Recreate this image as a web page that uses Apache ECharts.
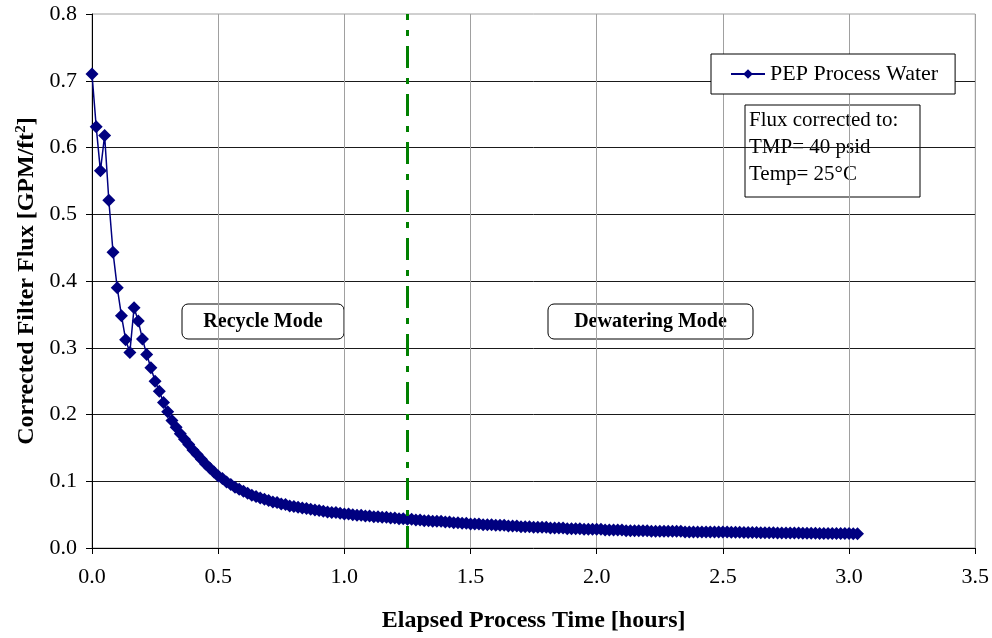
<!DOCTYPE html>
<html>
<head>
<meta charset="utf-8">
<script src="https://cdn.jsdelivr.net/npm/echarts@6/dist/echarts.min.js"></script>
<style>
  html, body { margin: 0; padding: 0; background: #fff; }
  #chart { width: 992px; height: 638px; }
</style>
</head>
<body>
<div id="chart"></div>
<script>
// Corrected filter flux, sampled once per minute from the start of the run
const sampleMinutes = 1;
const flux = [
  0.710, 0.631, 0.565, 0.618, 0.521, 0.443, 0.390, 0.348, 0.312, 0.293,
  0.360, 0.340, 0.313, 0.290, 0.270, 0.250, 0.235, 0.218, 0.204, 0.191,
  0.181, 0.171, 0.163, 0.155, 0.147, 0.140, 0.133, 0.126, 0.120, 0.114,
  0.108, 0.104, 0.099, 0.095, 0.091, 0.088, 0.085, 0.082, 0.079, 0.077,
  0.075, 0.073, 0.071, 0.069, 0.068, 0.066, 0.065, 0.063, 0.062, 0.061,
  0.060, 0.059, 0.058, 0.057, 0.056, 0.055, 0.054, 0.053, 0.053, 0.052,
  0.051, 0.051, 0.050, 0.049, 0.049, 0.048, 0.048, 0.047, 0.047, 0.046,
  0.046, 0.045, 0.045, 0.044, 0.044, 0.043, 0.043, 0.042, 0.042, 0.041,
  0.041, 0.040, 0.040, 0.040, 0.039, 0.039, 0.038, 0.038, 0.037, 0.037,
  0.036, 0.036, 0.036, 0.035, 0.035, 0.035, 0.034, 0.034, 0.034, 0.033,
  0.033, 0.033, 0.032, 0.032, 0.032, 0.031, 0.031, 0.031, 0.031, 0.030,
  0.030, 0.030, 0.030, 0.029, 0.029, 0.029, 0.029, 0.028, 0.028, 0.028,
  0.028, 0.028, 0.027, 0.027, 0.027, 0.027, 0.027, 0.026, 0.026, 0.026,
  0.026, 0.026, 0.026, 0.025, 0.025, 0.025, 0.025, 0.025, 0.025, 0.025,
  0.025, 0.024, 0.024, 0.024, 0.024, 0.024, 0.024, 0.024, 0.024, 0.024,
  0.024, 0.0238, 0.0237, 0.0236, 0.0235, 0.0234, 0.0233, 0.0232, 0.0231, 0.0230,
  0.0229, 0.0228, 0.0227, 0.0226, 0.0226, 0.0225, 0.0224, 0.0223, 0.0223, 0.0222,
  0.0221, 0.0221, 0.0220, 0.0219, 0.0219, 0.0218, 0.0218, 0.0217, 0.0217, 0.0216,
  0.0216, 0.0215, 0.0215
];
const seriesName = 'PEP Process Water';
const modeSwitchHours = 1.25;
const modeLabels = ['Recycle Mode', 'Dewatering Mode'];
const noteLines = ['Flux corrected to:', 'TMP= 40 psid', 'Temp= 25\u00B0C'];
const xTicks = { min: 0, max: 3.5, step: 0.5 };
const yTicks = { min: 0, max: 0.8, step: 0.1 };

const serif = '"Liberation Serif", "Times New Roman", serif';
const points = flux.map((v, i) => [i * sampleMinutes / 60, v]);

const chart = echarts.init(document.getElementById('chart'), null, { renderer: 'canvas' });

chart.setOption({
  animation: false,
  backgroundColor: '#fff',
  grid: {
    left: 92, right: 16, top: 14, bottom: 90,
    show: true, borderColor: '#a0a0a0', borderWidth: 1, backgroundColor: 'transparent'
  },
  legend: {
    data: [seriesName],
    left: 711, top: 54,
    padding: [9, 17, 9, 19],
    itemWidth: 34, itemHeight: 12, itemGap: 0,
    backgroundColor: '#fff',
    borderColor: '#000', borderWidth: 1,
    textStyle: { fontFamily: serif, fontSize: 22, color: '#000' }
  },
  xAxis: {
    type: 'value',
    min: xTicks.min, max: xTicks.max, interval: xTicks.step,
    name: 'Elapsed Process Time [hours]',
    nameLocation: 'middle', nameGap: 61,
    nameTextStyle: { fontFamily: serif, fontSize: 24, fontWeight: 'bold', color: '#000' },
    axisLine: { show: true, onZero: false, lineStyle: { color: '#000', width: 1 } },
    axisTick: { show: true, inside: false, length: 6, lineStyle: { color: '#000' } },
    axisLabel: {
      margin: 18, fontFamily: serif, fontSize: 22, color: '#000',
      formatter: v => v.toFixed(1)
    },
    splitLine: { show: true, showMinLine: false, lineStyle: { color: '#a0a0a0', width: 1 } }
  },
  yAxis: {
    type: 'value',
    min: yTicks.min, max: yTicks.max, interval: yTicks.step,
    name: '{t|Corrected Filter Flux [GPM/ft}{s|2}{t|]}',
    nameLocation: 'middle', nameGap: 48, nameRotate: 90,
    nameTextStyle: {
      rich: {
        t: { fontFamily: serif, fontSize: 24, fontWeight: 'bold', color: '#000', lineHeight: 26 },
        s: { fontFamily: serif, fontSize: 15, fontWeight: 'bold', color: '#000', verticalAlign: 'top', lineHeight: 26 }
      }
    },
    axisLine: { show: true, onZero: false, lineStyle: { color: '#000', width: 1 } },
    axisTick: { show: true, inside: false, length: 6, lineStyle: { color: '#000' } },
    axisLabel: {
      margin: 15, fontFamily: serif, fontSize: 22, color: '#000',
      formatter: v => v.toFixed(1)
    },
    splitLine: { show: true, showMinLine: false, showMaxLine: false, lineStyle: { color: '#1a1a1a', width: 1 } }
  },
  series: [
    {
      name: 'mode switch',
      type: 'line',
      data: [],
      z: 1,
      silent: true,
      markLine: {
        silent: true,
        symbol: ['none', 'none'],
        label: { show: false },
        lineStyle: { color: '#008000', width: 3, type: [22, 10, 6, 10] },
        data: [{ xAxis: modeSwitchHours }]
      }
    },
    {
      name: seriesName,
      type: 'line',
      data: points,
      z: 3,
      showAllSymbol: true,
      symbol: 'diamond',
      symbolSize: 13,
      lineStyle: { color: '#000080', width: 1.5 },
      itemStyle: { color: '#000080' }
    }
  ],
  graphic: [
    {
      type: 'group', z: 100,
      children: [
        {
          type: 'rect',
          shape: { x: 182, y: 304, width: 162, height: 35, r: 6 },
          style: { fill: '#fff', stroke: '#000', lineWidth: 1 }
        },
        {
          type: 'text',
          x: 263, y: 321.5,
          style: {
            text: modeLabels[0], fontFamily: serif, fontSize: 20, fontWeight: 'bold',
            fill: '#000', align: 'center', verticalAlign: 'middle'
          }
        },
        {
          type: 'rect',
          shape: { x: 548, y: 304, width: 205, height: 35, r: 6 },
          style: { fill: '#fff', stroke: '#000', lineWidth: 1 }
        },
        {
          type: 'text',
          x: 650.5, y: 321.5,
          style: {
            text: modeLabels[1], fontFamily: serif, fontSize: 20, fontWeight: 'bold',
            fill: '#000', align: 'center', verticalAlign: 'middle'
          }
        },
        {
          type: 'rect',
          shape: { x: 745, y: 105, width: 175, height: 92 },
          style: { fill: '#fff', stroke: '#000', lineWidth: 1 }
        },
        {
          type: 'text',
          x: 749, y: 107,
          style: {
            text: noteLines.join('\n'), fontFamily: serif, fontSize: 21,
            lineHeight: 27, fill: '#000', align: 'left', verticalAlign: 'top'
          }
        }
      ]
    }
  ]
});
</script>
</body>
</html>
